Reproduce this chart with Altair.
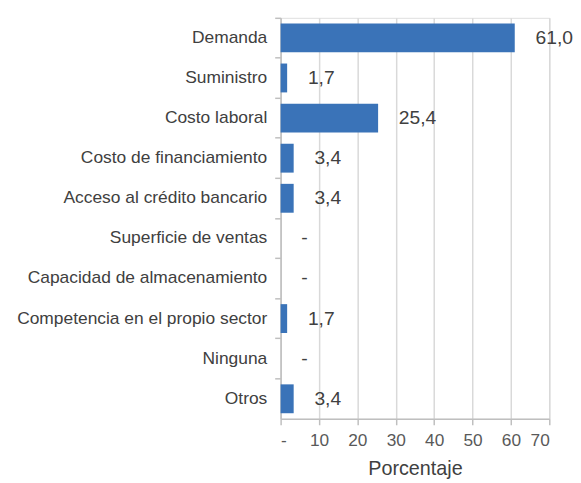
import altair as alt
import pandas as pd

categories = ["Demanda", "Suministro", "Costo laboral", "Costo de financiamiento",
              "Acceso al crédito bancario", "Superficie de ventas",
              "Capacidad de almacenamiento", "Competencia en el propio sector",
              "Ninguna", "Otros"]
values = [61.0, 1.7, 25.4, 3.4, 3.4, 0.0, 0.0, 1.7, 0.0, 3.4]

df = pd.DataFrame({"cat": categories, "val": values})

FONT = "Liberation Sans"

y_enc = alt.Y("cat:N", sort=categories, title=None,
              scale=alt.Scale(paddingInner=0, paddingOuter=0),
              axis=alt.Axis(bandPosition=0, labelFontSize=17.6, labelColor="#404040",
                            labelFont=FONT, labelPadding=8, tickSize=6, labelLimit=0,
                            tickColor="#bfbfbf", domainColor="#bfbfbf",
                            domainWidth=1.5, tickWidth=1.5, grid=False))
x_enc = alt.X("val:Q", title="Porcentaje",
              scale=alt.Scale(domain=[0, 70], nice=False),
              axis=alt.Axis(values=[0, 10, 20, 30, 40, 50, 60, 70],
                            labelExpr="datum.value == 0 ? '-' : datum.label",
                            labelFontSize=17.5, labelColor="#595959", labelFont=FONT,
                            titleFontSize=20, titleFontWeight="normal",
                            titleColor="#404040", titleFont=FONT, titlePadding=10,
                            tickSize=6, tickColor="#bfbfbf", tickWidth=1.5,
                            domainColor="#bfbfbf", domainWidth=1.5,
                            gridColor="#d9d9d9", gridWidth=1.5, labelPadding=7))

bars = alt.Chart(df).mark_bar(color="#3a73b8", height={"band": 0.72}).encode(
    x=x_enc, y=y_enc)

texts = alt.Chart(df).transform_calculate(
    lab="datum.val == 0 ? '-' : replace(format(datum.val, '.1f'), '.', ',')"
).mark_text(align="left", baseline="middle", dx=21, fontSize=19.5,
            font=FONT, color="#404040").encode(
    x=x_enc, y=y_enc, text="lab:N")

chart = (bars + texts).properties(width=272, height=406).configure_view(
    stroke=None).configure(padding={"left": 8, "top": 6, "right": 0, "bottom": 0})

chart.save("out.html", embed_options={"renderer": "svg", "actions": False})
